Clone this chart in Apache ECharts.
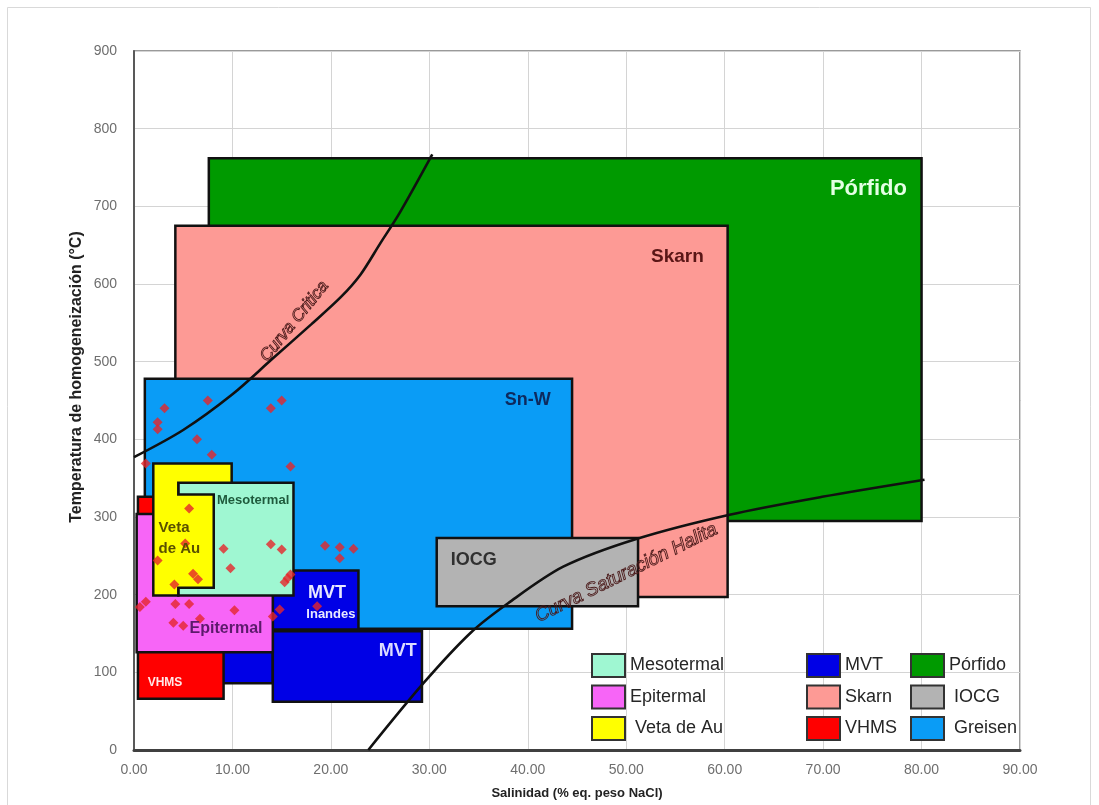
<!DOCTYPE html>
<html>
<head>
<meta charset="utf-8">
<script src="https://cdn.jsdelivr.net/npm/echarts@6/dist/echarts.min.js"></script>
<style>
html,body{margin:0;padding:0;background:#fff;}
#chart{width:1099px;height:805px;}
</style>
</head>
<body>
<div id="chart"></div>
<script>
// ---- data (x = salinidad % eq. NaCl, y = temperatura °C) ----
const xTicks = [0, 10, 20, 30, 40, 50, 60, 70, 80, 90];
const yTicks = [0, 100, 200, 300, 400, 500, 600, 700, 800, 900];

// rectangles as [xMin, xMax, yMin, yMax]
const porfidoRect = [7.6, 80.0, 295, 762];
const skarnRect = [4.2, 60.3, 197, 675];
const greisenRect = [1.1, 44.5, 156, 478];
const iocgRect = [30.75, 51.2, 185, 273];
const mvtRects = [[8.5, 14.1, 86, 140], [14.1, 22.8, 155, 231], [14.1, 29.25, 62, 153]];
const vhmsRect = [0.4, 9.1, 66, 326];
const epitermalRect = [0.27, 14.1, 126, 304];
const mesotermalRect = [4.5, 16.2, 199, 344];
const vetaAuPolygon = [[1.96, 369], [9.92, 369], [9.92, 344], [4.5, 344], [4.5, 329], [8.1, 329], [8.1, 209], [4.5, 209], [4.5, 199], [1.96, 199]];

const inclusionPoints = [
  [3.1, 440], [7.5, 450], [2.4, 422], [2.4, 413], [6.4, 400], [7.9, 380], [1.2, 369], [13.9, 440], [15.0, 450], [15.9, 365],
  [5.6, 311], [5.2, 266], [2.4, 244], [6.0, 227], [6.5, 220], [4.1, 213], [9.1, 259], [9.8, 234], [13.9, 265], [15.0, 258],
  [15.6, 221], [15.3, 216], [15.9, 226], [0.6, 184], [1.2, 191], [4.2, 188], [5.6, 188], [10.2, 180], [4.0, 164], [5.0, 160],
  [6.7, 169], [14.1, 172], [14.8, 181], [18.6, 185], [19.4, 263], [20.9, 261], [22.3, 259], [20.9, 247]
];

const curvaCritica = [[0, 377], [5, 412], [10, 458], [14, 503], [18, 548], [21, 583], [23, 612], [25, 652], [27, 692], [30.3, 767]];
const curvaHalita = [[23.8, 0], [29.4, 86], [34.2, 151], [38.0, 189], [43.6, 236], [51.1, 272], [60.5, 303], [69.9, 326], [80.3, 348]];

const labelTexts = ['Pórfido', 'Skarn', 'Sn-W', 'IOCG', 'Mesotermal', 'Veta\nde Au', 'Epitermal', 'MVT', 'Inandes', 'MVT', 'VHMS', 'Curva Critica', 'Curva Saturación Halita'];
const labelX = [74.6, 55.2, 40.0, 34.5, 12.1, 2.5, 9.35, 19.6, 20.0, 26.8, 3.15, 16.3, 50.0];
const labelY = [722, 635, 450, 244, 321, 272, 156, 202, 175, 128, 87, 552, 228];

// ---- styling ----
const FONT = "'Liberation Sans', Arial, sans-serif";
const BORDER = '#111';
const labelStyles = [
  {font: 'bold 22px ' + FONT, fill: '#e4ffe4'},
  {font: 'bold 19px ' + FONT, fill: '#5a1616'},
  {font: 'bold 18px ' + FONT, fill: '#0d2a5e'},
  {font: 'bold 18px ' + FONT, fill: '#303030'},
  {font: 'bold 13px ' + FONT, fill: '#1e5a3c'},
  {font: 'bold 15px ' + FONT, fill: '#5a5000', align: 'left', lineHeight: 21},
  {font: 'bold 16px ' + FONT, fill: '#5c1a6b'},
  {font: 'bold 18px ' + FONT, fill: '#e8e8ff'},
  {font: 'bold 13px ' + FONT, fill: '#e8e8ff'},
  {font: 'bold 18px ' + FONT, fill: '#dcdcff'},
  {font: 'bold 12px ' + FONT, fill: '#ffe8e8'},
  {font: 'italic 17px ' + FONT, fill: 'rgba(0,0,0,0)', stroke: '#4a1a1a', lineWidth: 0.9, rotation: 51},
  {font: 'italic 19px ' + FONT, fill: 'rgba(0,0,0,0)', stroke: '#4a1a1a', lineWidth: 0.9, rotation: 26.4}
];

function rectPoly(r) {
  return [[r[0], r[2]], [r[1], r[2]], [r[1], r[3]], [r[0], r[3]]];
}

function zoneSeries(name, color, polys, z) {
  return {
    type: 'custom',
    name: name,
    coordinateSystem: 'cartesian2d',
    silent: true,
    z: z,
    itemStyle: {color: color, borderColor: BORDER, borderWidth: 2.5},
    data: polys.map(p => [p[0][0], p[0][1]]),
    renderItem: function (params, api) {
      const pts = polys[params.dataIndex].map(v => api.coord(v));
      return {
        type: 'polygon',
        shape: {points: pts},
        style: {fill: color, stroke: BORDER, lineWidth: 2.5, lineJoin: 'miter'}
      };
    }
  };
}

const series = [
  zoneSeries('Pórfido', '#009a00', [rectPoly(porfidoRect)], 2),
  zoneSeries('Skarn', '#fd9a95', [rectPoly(skarnRect)], 2),
  zoneSeries('Greisen', '#0a9cf6', [rectPoly(greisenRect)], 2),
  zoneSeries('IOCG', '#b3b3b3', [rectPoly(iocgRect)], 2),
  zoneSeries('MVT', '#0000e6', mvtRects.map(rectPoly), 2),
  zoneSeries('VHMS', '#ff0000', [rectPoly(vhmsRect)], 2),
  zoneSeries('Epitermal', '#f765f7', [rectPoly(epitermalRect)], 2),
  zoneSeries('Mesotermal', '#9ff7d2', [rectPoly(mesotermalRect)], 2),
  zoneSeries('Veta de Au', '#ffff00', [vetaAuPolygon], 2),
  {
    type: 'scatter', name: 'puntos', silent: true, z: 4,
    symbol: 'diamond', symbolSize: 10,
    itemStyle: {color: '#e5262b'},
    data: inclusionPoints
  },
  {
    type: 'line', name: 'Curva Critica', silent: true, z: 5,
    smooth: 0.3, showSymbol: false,
    lineStyle: {color: '#111', width: 2.6},
    data: curvaCritica
  },
  {
    type: 'line', name: 'Curva Saturación Halita', silent: true, z: 5,
    smooth: 0.3, showSymbol: false,
    lineStyle: {color: '#111', width: 2.6},
    data: curvaHalita
  },
  {
    type: 'custom', name: 'etiquetas', silent: true, z: 6,
    coordinateSystem: 'cartesian2d',
    data: labelX.map((x, i) => [x, labelY[i]]),
    renderItem: function (params, api) {
      const i = params.dataIndex;
      const p = api.coord([labelX[i], labelY[i]]);
      const s = labelStyles[i];
      return {
        type: 'text',
        x: p[0], y: p[1],
        rotation: (s.rotation || 0) * Math.PI / 180,
        style: {
          text: labelTexts[i],
          font: s.font,
          fill: s.fill,
          stroke: s.stroke || null,
          lineWidth: s.lineWidth || 0,
          align: s.align || 'center',
          verticalAlign: 'middle',
          lineHeight: s.lineHeight
        }
      };
    }
  }
];

function legendCol(names, left) {
  return {
    data: names,
    orient: 'vertical',
    left: left,
    top: 648,
    icon: 'rect',
    itemWidth: 33,
    itemHeight: 23,
    itemGap: 6.5,
    selectedMode: false,
    itemStyle: {borderColor: '#333', borderWidth: 2},
    formatter: function (n) { return (n === 'Veta de Au' || n === 'IOCG' || n === 'Greisen') ? ' ' + n : n; },
    textStyle: {fontFamily: FONT, fontSize: 18, color: '#262626', padding: 0}
  };
}

const chart = echarts.init(document.getElementById('chart'), null, {renderer: 'canvas'});
chart.setOption({
  animation: false,
  backgroundColor: '#ffffff',
  graphic: [{
    type: 'rect', silent: true, z: -10,
    shape: {x: 7.5, y: 7.5, width: 1083, height: 820},
    style: {fill: 'none', stroke: '#d9d9d9', lineWidth: 1}
  }, {
    type: 'text', silent: true, z: 10,
    x: 77, y: 377, rotation: Math.PI / 2,
    style: {
      text: 'Temperatura de homogeneización (°C)',
      font: 'bold 16px ' + FONT, fill: '#222',
      align: 'center', verticalAlign: 'middle'
    }
  }],
  grid: {
    left: 134, right: 79, top: 51, bottom: 50,
    show: true, borderColor: '#7a7a7a', borderWidth: 1.5, backgroundColor: 'transparent'
  },
  legend: [
    legendCol(['Mesotermal', 'Epitermal', 'Veta de Au'], 586),
    legendCol(['MVT', 'Skarn', 'VHMS'], 801),
    legendCol(['Pórfido', 'IOCG', 'Greisen'], 905)
  ],
  xAxis: {
    type: 'value',
    min: xTicks[0], max: xTicks[xTicks.length - 1], interval: 10,
    name: 'Salinidad (% eq. peso NaCl)',
    nameLocation: 'middle', nameGap: 37,
    nameTextStyle: {fontFamily: FONT, fontSize: 13, fontWeight: 'bold', color: '#222'},
    axisLine: {show: true, lineStyle: {color: '#404040', width: 3}},
    axisTick: {show: false},
    axisLabel: {fontFamily: FONT, fontSize: 14, color: '#6e6e6e', margin: 13, formatter: v => v.toFixed(2)},
    splitLine: {show: true, lineStyle: {color: '#d4d4d4', width: 1}}
  },
  yAxis: {
    type: 'value',
    min: yTicks[0], max: yTicks[yTicks.length - 1], interval: 100,
    axisLine: {show: true, lineStyle: {color: '#595959', width: 2}},
    axisTick: {show: false},
    axisLabel: {fontFamily: FONT, fontSize: 14, color: '#6e6e6e', margin: 17},
    splitLine: {show: true, lineStyle: {color: '#d4d4d4', width: 1}}
  },
  series: series
});
</script>
</body>
</html>
